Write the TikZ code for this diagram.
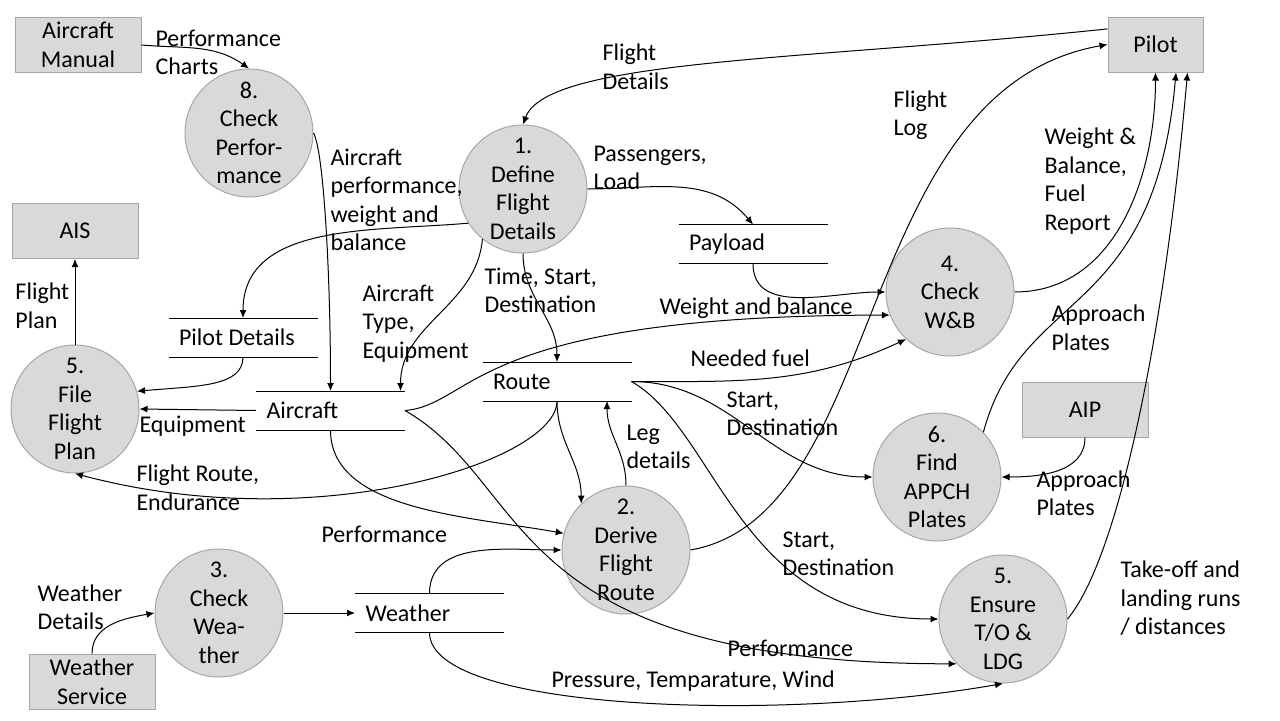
\documentclass[tikz,border=0pt]{standalone}
\usepackage{fontspec}
\setmainfont{Carlito}
\usetikzlibrary{arrows.meta}
\definecolor{procfill}{HTML}{D9D9D9}
\definecolor{procline}{HTML}{A6A6A6}

\begin{document}
\begin{tikzpicture}[x=0.5pt,y=0.5pt,
    font=\fontsize{12}{14.25}\selectfont,
    line width=0.5pt,
    >={Latex[length=4pt,width=3.5pt]},
    proc/.style={circle,draw=procline,fill=procfill,minimum size=64pt,inner sep=0pt,align=center},
    ext/.style={rectangle,draw=procline,fill=procfill,minimum width=63pt,minimum height=27.5pt,inner sep=2pt,align=center},
    store/.style={minimum width=74pt,minimum height=19pt,text width=64pt,inner xsep=5pt,inner ysep=0pt,align=flush left},
    lbl/.style={anchor=west,align=left,inner sep=0pt}]
      \useasboundingbox[fill=white] (0,0) rectangle (1280,720);

      % entities
      \path
      (78,675) node[ext](manual) {Aircraft\\Manual}
      (75,489) node[ext](ais) {AIS}
      (1155.5,675.5) node[ext,minimum width=47.5pt](pilot) {Pilot}
      (1085,310.5) node[ext](aip) {AIP}
      (92,38.5) node[ext](wxsvc) {Weather\\Service}
      ;
      % processes
      \path
      (249,587) node[proc](chk8) {8.\\Check\\Perfor-\\mance}
      (523,531) node[proc](def1) {1.\\Define\\Flight\\Details}
      (950,428) node[proc](wb4) {4.\\Check\\W\&B}
      (937,243) node[proc](appch6) {6.\\Find\\APPCH\\Plates}
      (75,311) node[proc](file5) {5.\\File\\Flight\\Plan}
      (626,170) node[proc](derive2) {2.\\Derive\\Flight\\Route}
      (219,107) node[proc](wx3) {3.\\Check\\Wea-\\ther}
      (1003,101) node[proc](told5) {5.\\Ensure\\T/O \&\\LDG}
      ;
      % data stores
      \path
      (753,476) node[store](payload) {Payload}
      (243,382.5) node[store](pilotdet) {Pilot Details}
      (330.5,309.5) node[store](aircraft) {Aircraft}
      (557,338.5) node[store](route) {Route}
      (429.5,107) node[store](weather) {Weather}
      ;
      \foreach \s in {payload,pilotdet,aircraft,route,weather}
        \draw (\s.north west) -- (\s.north east) (\s.south west) -- (\s.south east);

      % flow labels
      \path
      (155,667.5) node[lbl](lblcharts) {Performance\\Charts}
      (602,653) node[lbl](lblflightdet) {Flight\\Details}
      (593,552) node[lbl](lblpass) {Passengers,\\Load}
      (330,520) node[lbl](lblperfwb) {Aircraft\\performance,\\weight and\\balance}
      (362,396.5) node[lbl](lbltype) {Aircraft\\Type,\\Equipment}
      (484,429.5) node[lbl](lbltime) {Time, Start,\\Destination}
      (659,412) node[lbl](lblwandb) {Weight and balance}
      (690,362) node[lbl](lblfuel) {Needed fuel}
      (726,306) node[lbl](lblsd1) {Start,\\Destination}
      (626,273) node[lbl](lblleg) {Leg\\details}
      (136,232) node[lbl](lblfroute) {Flight Route,\\Endurance}
      (139,294) node[lbl](lblequip) {Equipment}
      (15,414) node[lbl](lblfplan) {Flight\\Plan}
      (321,186) node[lbl](lblperf1) {Performance}
      (782,166) node[lbl](lblsd2) {Start,\\Destination}
      (37,113) node[lbl](lblwxdet) {Weather\\Details}
      (727,72) node[lbl](lblperf2) {Performance}
      (551,39) node[lbl](lblptw) {Pressure, Temparature, Wind}
      (893,605) node[lbl](lblflog) {Flight\\Log}
      (1044,539) node[lbl](lblwbrep) {Weight \&\\Balance,\\Fuel\\Report}
      (1051,392) node[lbl](lblappr1) {Approach\\Plates}
      (1036,227) node[lbl](lblappr2) {Approach\\Plates}
      (1120,121.5) node[lbl](lbltold) {Take-off and\\landing runs\\/ distances}
      ;

      \draw[->] (manual.east) to[out=-5,in=145] (chk8.north);
      \draw[->] (pilot.162) to[out=186,in=70,out distance=150pt,in distance=35pt] (def1.north);
      \draw[->] (def1.east) to[out=0,in=130] (payload.north);
      \draw[->] (def1.212) to[out=185,in=90] (pilotdet.north);
      \draw[->] (chk8.east) to[out=-60,in=90,out distance=10pt,in distance=60pt] (aircraft.north);
      \draw[->] (def1.231) to[out=265,in=90] ([xshift=35pt]aircraft.north);
      \draw[->] (def1.south) to[out=270,in=90] (route.north);
      \draw[->] (payload.south) to[out=270,in=180] (wb4.west);
      \draw[->] (aircraft.east) to[out=5,in=180,out distance=35pt,in distance=210pt] (wb4.201);
      \draw[->] (route.east) to[out=0,in=205] (wb4.227);
      \draw[->] (route.east) to[out=0,in=180] (appch6.west);
      \draw[->] (route.east) to[out=-30,in=180,out distance=50pt,in distance=100pt] (told5.west);
      \draw[->] (route.south) to[out=270,in=90] (derive2.134);
      \draw[->] (derive2.north) to[out=90,in=270] ([xshift=25pt]route.south);
      \draw[->] (route.south) to[out=270,in=-15,out distance=30pt,in distance=125pt] (file5.south);
      \draw[->] (pilotdet.south) to[out=270,in=5,out distance=15pt,in distance=30pt] (file5.16);
      \draw[->] (aircraft.west) -- (file5.east);
      \draw[->] (file5.north) -- (ais.south);
      \draw[->] (aircraft.south) to[out=270,in=170,out distance=40pt] (derive2.165);
      \draw[->] (aircraft.east) to[out=-30,in=180,out distance=75pt,in distance=228pt] (told5.224);
      \draw[->] (wx3.east) -- (weather.west);
      \draw[->] (wxsvc.north) to[out=90,in=190] (wx3.west);
      \draw[->] (weather.north) to[out=90,in=180] (derive2.west);
      \draw[->] (weather.south) to[out=270,in=190,out distance=40pt,in distance=110pt] (told5.south);
      \draw[->] (derive2.east) to[out=10,in=190,out distance=100pt,in distance=130pt] (pilot.west);
      \draw[->] (wb4.east) to[out=0,in=270] (pilot.south);
      \draw[->] (appch6.44) to[out=75,in=265,out distance=75pt,in distance=125pt] ([xshift=10.25pt]pilot.south);
      \draw[->] (aip.south) to[out=270,in=0] (appch6.east);
      \draw[->] (told5.east) to[out=50,in=265,out distance=40pt,in distance=130pt] ([xshift=16pt]pilot.south);
    \end{tikzpicture}
\end{document}
